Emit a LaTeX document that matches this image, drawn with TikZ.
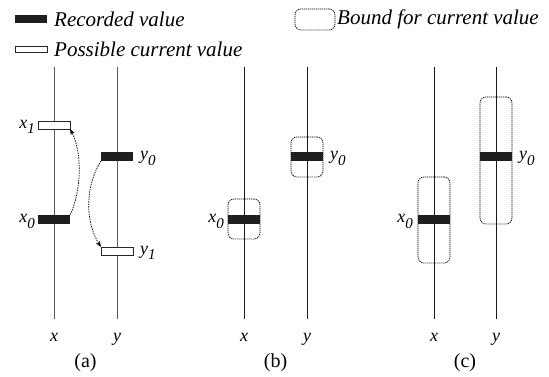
\documentclass[tikz,border=0pt]{standalone}
\usepackage{fontspec}
\setmainfont{Liberation Serif}
\usetikzlibrary{arrows.meta}
\newcommand\lsub[1]{\raisebox{-5.5pt}{\fontsize{15}{15}\selectfont #1}}
\begin{document}
\begin{tikzpicture}[x=1pt,y=-1pt,
  axisa/.style={line width=0.8pt, draw=black!65},
  axisb/.style={line width=0.8pt, draw=black!90},
  recbox/.style={fill=black!88, draw=none, minimum width=32pt, minimum height=9pt, inner sep=0pt, outer sep=0pt},
  posbox/.style={fill=white, draw=black!85, line width=0.6pt, minimum width=32pt, minimum height=8pt, inner sep=0pt, outer sep=0pt},
  boundbox/.style={draw=black, dash pattern=on 1.2pt off 0.8pt, line width=0.7pt, rounded corners=6pt, minimum width=32pt, inner sep=0pt},
  labtxt/.style={font=\fontsize{18}{20}\selectfont\itshape, inner sep=0pt},
  legtxt/.style={font=\fontsize{21}{22}\selectfont\itshape, inner sep=0pt, anchor=west},
  captxt/.style={font=\fontsize{20}{22}\selectfont, inner sep=0pt, anchor=base},
  arrline/.style={draw=black, dash pattern=on 1.5pt off 1pt, line width=0.7pt, -{Stealth[length=6pt,width=4.5pt]}}
]
\useasboundingbox (0,0) rectangle (549,376);
% legend
\node[recbox, minimum height=8pt] (lrec) at (31,19) {};
\node[legtxt] (lrect) at (54,19) {Recorded value};
\node[posbox, minimum height=6pt] (lpos) at (31,49) {};
\node[legtxt] (lpost) at (54,49) {Possible current value};
\node[boundbox, minimum width=40pt, minimum height=21pt, rounded corners=6pt] (lbnd) at (315,19.5) {};
\node[legtxt] (lbndt) at (337,19) {Bound for current value};
% axis end points
\foreach \n/\x in {ax/54, ay/117, bx/244, by/307, cx/434, cy/496}{
  \coordinate (\n t) at (\x,67);
  \coordinate (\n b) at (\x,319);
}
\draw[axisa] (axt) -- (axb);
\draw[axisa] (ayt) -- (ayb);
\draw[axisb] (bxt) -- (bxb);
\draw[axisb] (byt) -- (byb);
\draw[axisb] (cxt) -- (cxb);
\draw[axisb] (cyt) -- (cyb);
% panel (a)
\node[posbox] (x1a) at (54,125) {};
\node[recbox] (x0a) at (54,219.5) {};
\node[recbox] (y0a) at (117,156.5) {};
\node[posbox] (y1a) at (117,251) {};
\node[labtxt, anchor=base east] (lx1a) at (35,128) {x\lsub{1}};
\node[labtxt, anchor=base east] (lx0a) at (35,222.5) {x\lsub{0}};
\node[labtxt, anchor=base west] (ly0a) at (140,159.5) {y\lsub{0}};
\node[labtxt, anchor=base west] (ly1a) at (140,254) {y\lsub{1}};
\draw[arrline] (x0a.north east) .. controls +(12,-25) and +(12,22) .. (x1a.south east);
\draw[arrline] (y0a.south west) .. controls +(-16,25) and +(-16,-25) .. (y1a.north west);
% panel (b)
\node[boundbox, minimum height=40pt] (bxbd) at (244,219) {};
\node[boundbox, minimum height=40pt] (bybd) at (307,157) {};
\node[recbox] (x0b) at (244,219.5) {};
\node[recbox] (y0b) at (307,156.5) {};
\node[labtxt, anchor=base east] (lx0b) at (224,222.5) {x\lsub{0}};
\node[labtxt, anchor=base west] (ly0b) at (330,159.5) {y\lsub{0}};
% panel (c)
\node[boundbox, minimum height=86pt] (bxc) at (434,220) {};
\node[boundbox, minimum height=127pt] (byc) at (496,160.5) {};
\node[recbox] (x0c) at (434,219.5) {};
\node[recbox] (y0c) at (496,156.5) {};
\node[labtxt, anchor=base east] (lx0c) at (413,222.5) {x\lsub{0}};
\node[labtxt, anchor=base west] (ly0c) at (519,159.5) {y\lsub{0}};
% bottom labels
\foreach \n/\x/\t in {axl/54/x, ayl/117/y, bxl/244/x, byl/307/y, cxl/434/x, cyl/496/y}{
  \node[labtxt, anchor=base] (\n) at (\x,341) {\t};
}
\node[captxt] (capa) at (85.5,367) {(a)};
\node[captxt] (capb) at (275.5,367) {(b)};
\node[captxt] (capc) at (465,367) {(c)};
\end{tikzpicture}
\end{document}
